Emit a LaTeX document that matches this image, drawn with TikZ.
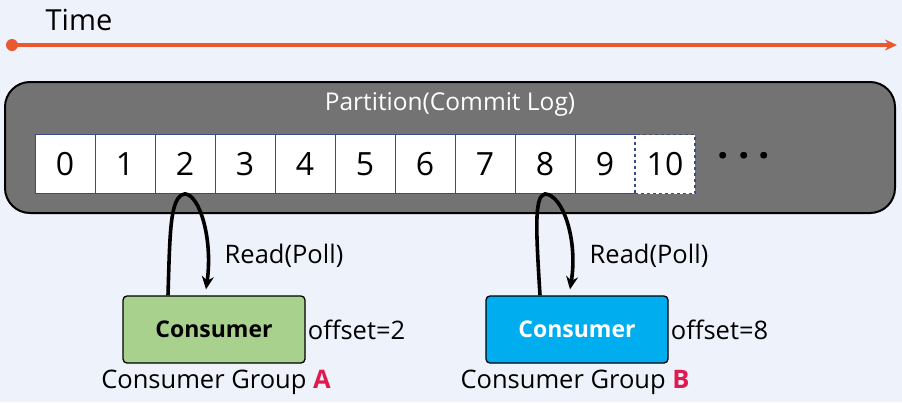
\documentclass[tikz,border=0pt]{standalone}
\usepackage{fontspec}
\setmainfont{Open Sans}
\usepackage{tikz}
\usetikzlibrary{arrows.meta}

\definecolor{bgblue}{HTML}{EEF2FB}
\definecolor{timeline}{HTML}{E9582F}
\definecolor{partgray}{HTML}{737373}
\definecolor{cellblue}{HTML}{3A4A8C}
\definecolor{greenA}{HTML}{A9D18E}
\definecolor{blueB}{HTML}{00AEEF}
\definecolor{grpred}{HTML}{E0194F}

\begin{document}
\begin{tikzpicture}[x=1pt,y=-1pt,
    cell/.style = {draw=cellblue, fill=white, line width=0.8pt, minimum width=60pt, minimum height=59pt, inner sep=0pt, font=\fontsize{32}{36}\selectfont},
    consumer/.style = {draw, rounded corners=4pt, line width=1.3pt, minimum width=182pt, minimum height=67pt, font=\bfseries\fontsize{23}{26}\selectfont},
    lbl/.style = {font=\fontsize{25.5}{28}\selectfont},
    flow/.style = {line width=3.6pt, -{Stealth[length=13pt,width=12pt]}},
    node distance={60pt}]
        \fill[bgblue] (0,0) rectangle (902,402);
        \useasboundingbox (0,0) rectangle (902,402);
        % time axis
        \node[lbl, font=\fontsize{29}{32}\selectfont] (time) at (79,20) {Time};
        \coordinate (t0) at (12,45);
        \coordinate (t1) at (897,45);
        \draw[timeline, line width=3.5pt, -{Stealth[length=12pt,width=11pt]}] (t0) -- (t1);
        \fill[timeline] (t0) circle (6pt);
        % partition
        \node[draw, fill=partgray, rounded corners=25pt, line width=2pt, minimum width=890pt, minimum height=131pt] (part) at (450,147.5) {};
        \node[lbl, text=white, font=\fontsize{24.5}{28}\selectfont] (ptitle) at (450,104) {Partition(Commit Log)};
        \node[cell] (c0) at (65,164) {0};
        \node[cell] (c1) [right of=c0] {1};
        \node[cell] (c2) [right of=c1] {2};
        \node[cell] (c3) [right of=c2] {3};
        \node[cell] (c4) [right of=c3] {4};
        \node[cell] (c5) [right of=c4] {5};
        \node[cell] (c6) [right of=c5] {6};
        \node[cell] (c7) [right of=c6] {7};
        \node[cell] (c8) [right of=c7] {8};
        \node[cell] (c9) [right of=c8] {9};
        \node[cell, dashed, line width=1.2pt] (c10) [right of=c9] {10};
        \node[font=\bfseries\fontsize{40}{42}\selectfont] (dots) at (744,156) {.\hspace{9pt}.\hspace{9pt}.};
        % consumers
        \node[consumer, fill=greenA] (consA) at (214,329.5) {Consumer};
        \node[consumer, fill=blueB, text=white] (consB) at (577,329.5) {Consumer};
        \node[lbl, anchor=west, inner sep=2pt] (offA) at (consA.east) {offset=2};
        \node[lbl, anchor=west, inner sep=2pt] (offB) at (consB.east) {offset=8};
        \node[lbl] (grpA) at (216,382) {Consumer Group \textcolor{grpred}{\bfseries A}};
        \node[lbl] (grpB) at (575,382) {Consumer Group \textcolor{grpred}{\bfseries B}};
        \node[lbl] (readA) at (284,256) {Read(Poll)};
        \node[lbl] (readB) at (649,256) {Read(Poll)};
        \draw[flow] ([xshift=-46pt]consA.north) .. controls (170,230) and (170,196) .. (c2.south) .. controls (200,195) and (213,240) .. ([xshift=-8pt,yshift=6pt]consA.north);
        \draw[flow] ([xshift=-37pt]consB.north) .. controls (536,230) and (534,196) .. (c8.south) .. controls (563,195) and (578,240) .. ([xshift=-7pt,yshift=6pt]consB.north);
\end{tikzpicture}
\end{document}
